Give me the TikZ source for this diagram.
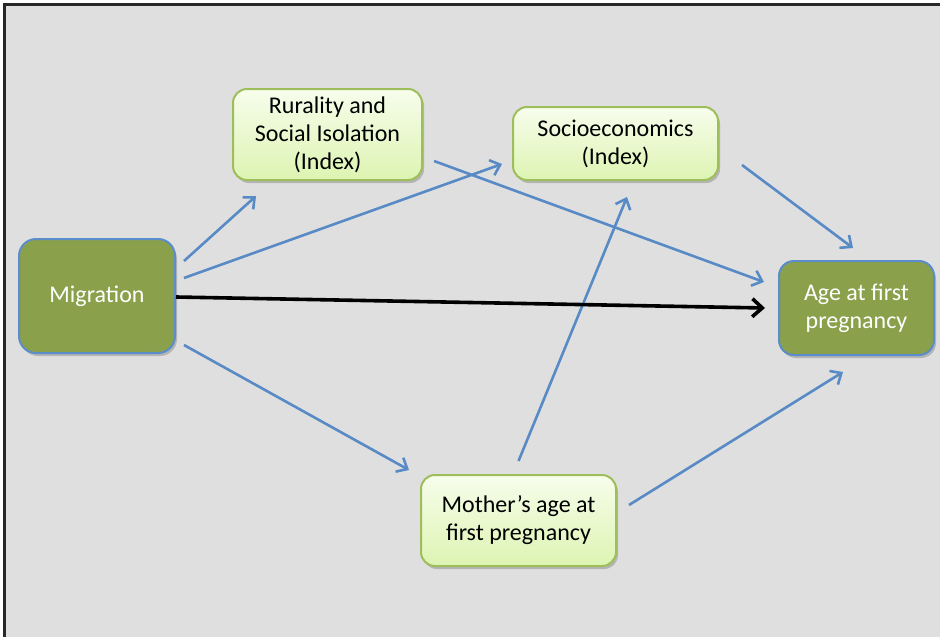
\documentclass[tikz,border=0pt]{standalone}
\usepackage{fontspec}
\setmainfont{Carlito}
\usetikzlibrary{arrows.meta,calc,shadows}
\definecolor{bgc}{RGB}{223,223,223}
\definecolor{darkg}{RGB}{138,160,74}
\definecolor{bluebd}{RGB}{92,141,203}
\definecolor{arrc}{RGB}{88,138,198}
\definecolor{lighttop}{RGB}{247,253,236}
\definecolor{lightbot}{RGB}{221,244,178}
\definecolor{lightbd}{RGB}{158,190,92}
\definecolor{framec}{RGB}{40,40,40}
\begin{document}
\begin{tikzpicture}[x=1pt,y=-1pt,
  darkbox/.style={draw=bluebd,line width=2pt,fill=darkg,rounded corners=17pt,
    text=white,align=center,inner sep=0pt,
    drop shadow={shadow xshift=2pt,shadow yshift=-3pt,opacity=0.35,fill=black!60},
    font=\fontsize{24}{28}\selectfont},
  lightbox/.style={draw=lightbd,line width=2pt,top color=lighttop,bottom color=lightbot,
    rounded corners=14pt,text=black,align=center,inner sep=0pt,
    drop shadow={shadow xshift=2pt,shadow yshift=-3pt,opacity=0.35,fill=black!60},
    font=\fontsize{24}{28}\selectfont},
  barrow/.style={draw=arrc,line width=2.6pt,-{Straight Barb[length=9pt,width=16pt,line width=2.6pt]}},
  karrow/.style={draw=black,line width=3.6pt,-{Straight Barb[length=10pt,width=18pt,line width=3.6pt]}}
]
\useasboundingbox (0,0) rectangle (940,637);
\fill[white] (0,0) rectangle (940,637);
\draw[framec,line width=2.2pt,fill=bgc] (4.5,4.5) rectangle (970,670);

\node[darkbox,minimum width=156pt,minimum height=114pt] (mig) at (97,296) {Migration};
\node[lightbox,minimum width=189pt,minimum height=91pt] (rur) at (327.5,134.5) {Rurality and\\Social Isolation\\(Index)};
\node[lightbox,minimum width=205pt,minimum height=73pt] (soc) at (615.5,143.5) {Socioeconomics\\(Index)};
\node[darkbox,minimum width=155pt,minimum height=94pt,rounded corners=15pt] (age) at (856.5,308) {Age at first\\pregnancy};
\node[lightbox,minimum width=195pt,minimum height=91pt] (mot) at (518.5,520.5) {Mother’s age at\\first pregnancy};

\draw[barrow] ($(mig.east)+(8,-35)$) -- ($(rur.south west)+(24,15)$);
\draw[barrow] ($(mig.east)+(8,-18)$) -- ($(soc.south west)+(-10,-17)$);
\draw[barrow] ($(rur.south east)+(11,-20)$) -- ($(age.west)+(-14,-26)$);
\draw[barrow] ($(soc.south east)+(23,-16)$) -- ($(age.north)+(-3.5,-12)$);
\draw[barrow] ($(mot.north)+(0,-13)$) -- ($(soc.south)+(11.5,16)$);
\draw[barrow] ($(mot.east)+(12,-15.5)$) -- ($(age.south)+(-13.5,16)$);
\draw[barrow] ($(mig.east)+(8,49)$) -- ($(mot.west)+(-11,-50.5)$);
\draw[karrow] ($(mig.east)+(0,1)$) -- ($(age.west)+(-13,0)$);
\end{tikzpicture}
\end{document}
